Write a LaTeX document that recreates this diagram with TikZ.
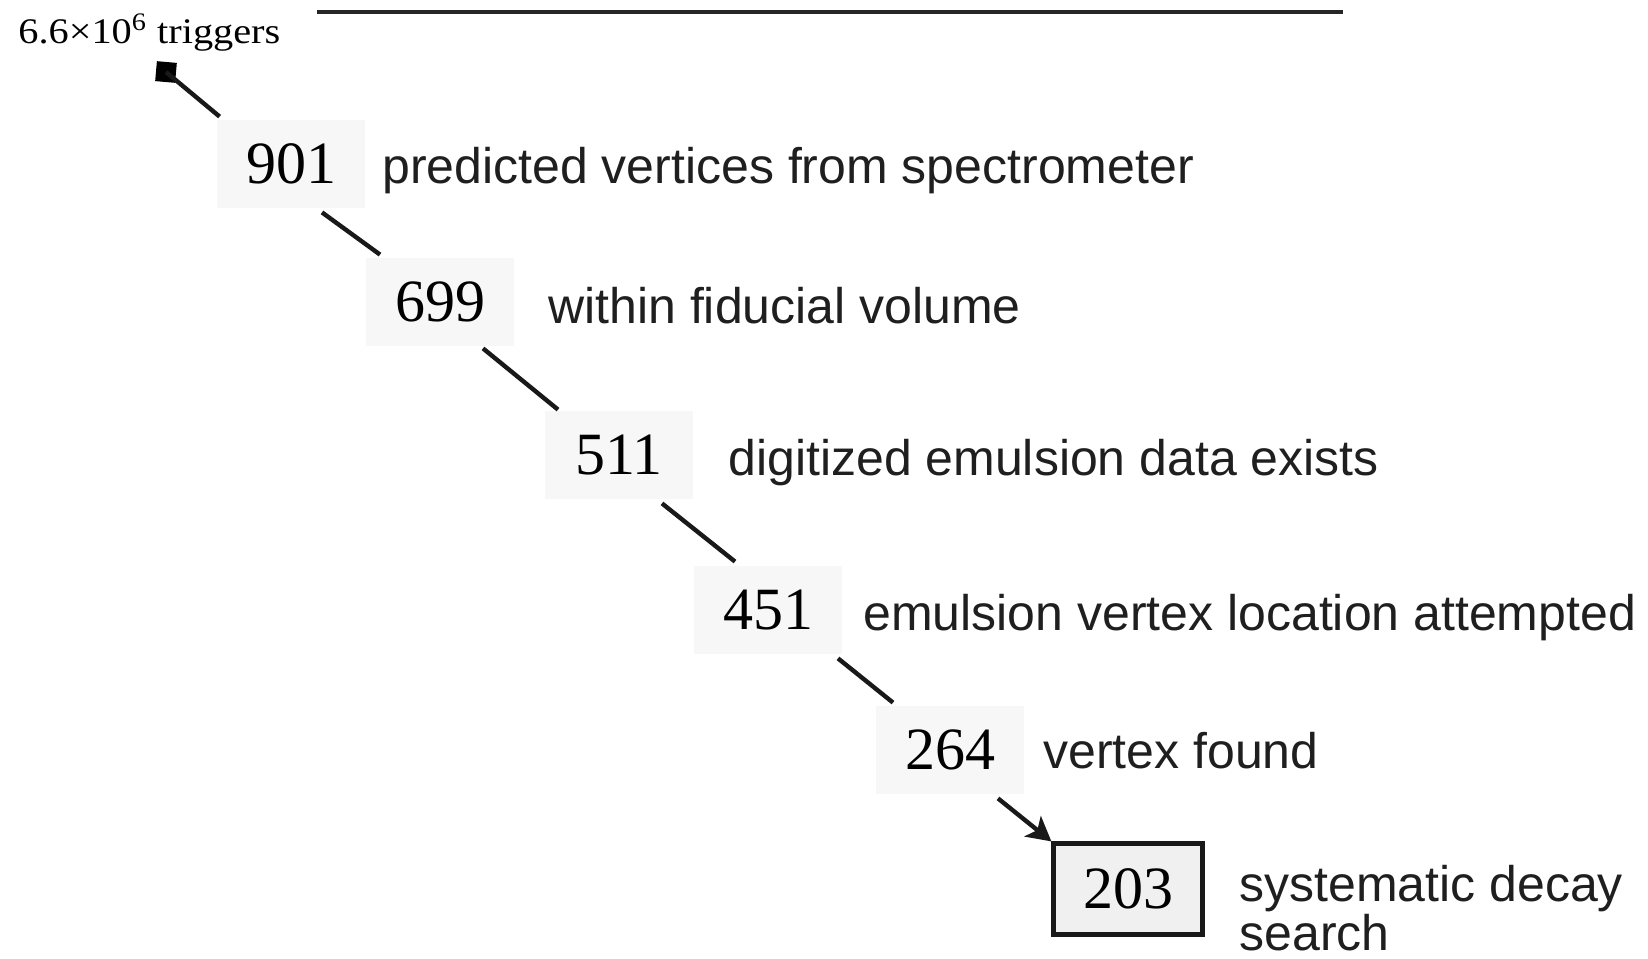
\documentclass[tikz,border=0pt]{standalone}
\usepackage{fontspec}
\setmainfont{Liberation Serif}
\newfontfamily\labfont{Liberation Sans}
\usetikzlibrary{arrows.meta}
\begin{document}
\begin{tikzpicture}[x=0.5pt,y=-0.5pt,
  count/.style={rectangle, fill=black!3, minimum width=74pt, minimum height=44pt,
    inner sep=0pt, font=\fontsize{30}{30}\selectfont},
  final/.style={count, draw=black!90, line width=2.1pt, fill=black!6,
    minimum width=74.5pt, minimum height=45.5pt},
  cut/.style={line width=2.2pt, draw=black!90},
  lab/.style={anchor=base west, inner sep=0pt, text=black!88,
    font=\labfont\fontsize{25}{22}\selectfont, align=left},
]
\useasboundingbox (0,0) rectangle (1648,958);
\fill[white] (0,0) rectangle (1648,958);

% heading rule
\draw[line width=2.3pt, black!85] (317,12) -- (1343,12);

% starting sample
\node[anchor=base west, inner sep=0pt, font=\fontsize{18}{18}\selectfont] (trigtext) at (18,43)
  {\scalebox{1.12}[1]{6.6×10\textsuperscript{6} triggers}};
\node[fill=black, minimum size=10pt, inner sep=0pt, rotate=-5] (trig) at (166,72) {};

% selection steps
\node[count] (n901) at (291,164) {901};
\node[count] (n699) at (440,302) {699};
\node[count] (n511) at (619,455) {511};
\node[count] (n451) at (768,610) {451};
\node[count] (n264) at (950,750) {264};
\node[final] (n203) at (1128,889) {203};

\node[lab] (l901) at (382,183) {predicted vertices from spectrometer};
\node[lab] (l699) at (548,323) {within fiducial volume};
\node[lab] (l511) at (728,475) {digitized emulsion data exists};
\node[lab] (l451) at (863,630) {emulsion vertex location attempted};
\node[lab] (l264) at (1043,768) {vertex found};
\node[lab] (l203) at (1239,950) {systematic decay\\search};

% links between steps
\draw[cut] (trig.center) -- ([shift={(1.5pt,1.5pt)}]n901.north west);
\draw[cut] ([shift={(15.5pt,-2pt)}]n901.south) -- ([shift={(-30pt,1.5pt)}]n699.north);
\draw[cut] ([shift={(21.5pt,-1pt)}]n699.south) -- ([shift={(-30.5pt,0.5pt)}]n511.north);
\draw[cut] ([shift={(21.5pt,-2pt)}]n511.south) -- ([shift={(-16.5pt,2pt)}]n451.north);
\draw[cut] ([shift={(35pt,-2pt)}]n451.south) -- ([shift={(-28.5pt,1.5pt)}]n264.north);
\draw[cut, -{Stealth[length=12pt, width=13pt, inset=3pt]}]
  ([shift={(24pt,-2pt)}]n264.south) -- (n203.north west);
\end{tikzpicture}
\end{document}
